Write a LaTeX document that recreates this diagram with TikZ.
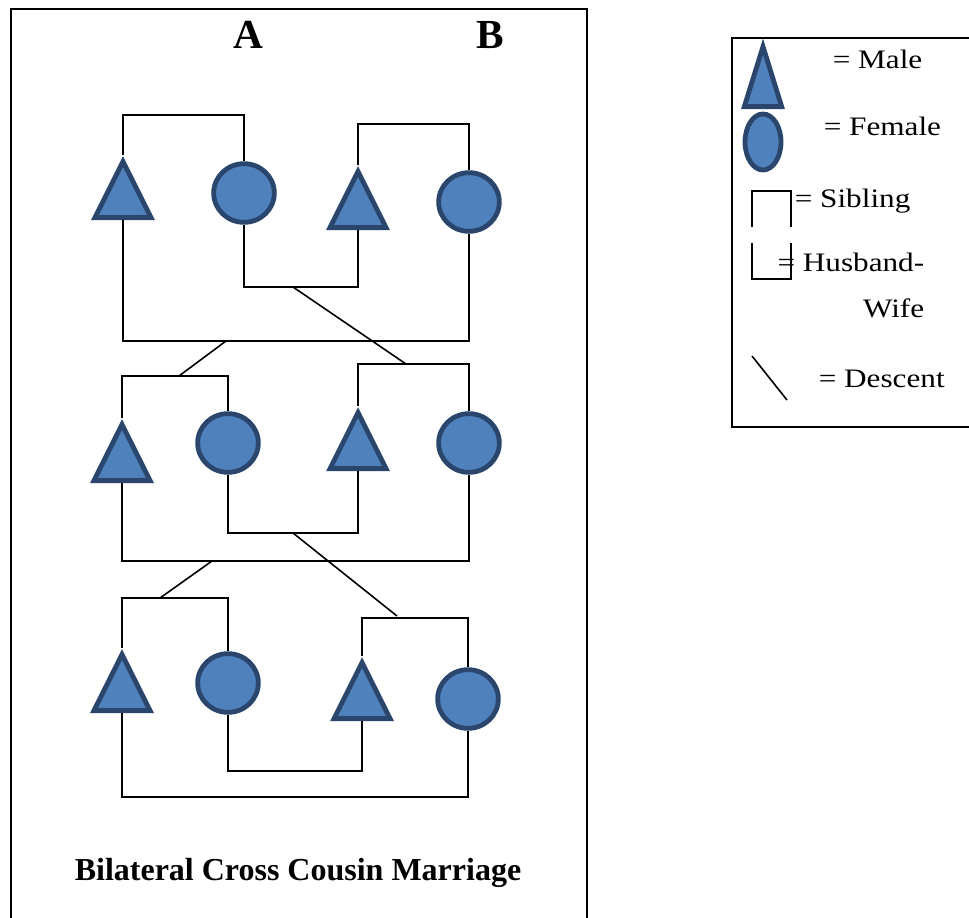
\documentclass[tikz,border=0pt]{standalone}
\usepackage{fontspec}
\setmainfont{Liberation Serif}
\newfontfamily\keyfont[FakeStretch=1.17]{Liberation Serif}
\usepackage{tikz}
\usetikzlibrary{shapes.geometric}
\definecolor{kinfill}{HTML}{4F81BD}
\definecolor{kinline}{HTML}{2A466C}

\begin{document}
\begin{tikzpicture}[x = 0.75pt, y = -0.75pt, line width = 1.2pt,
                        male/.style = {isosceles triangle, isosceles triangle stretches, shape border rotate = 90,
                                       draw = kinline, fill = kinfill, line width = 3.6pt, inner sep = 0pt,
                                       minimum width = 42pt, minimum height = 42pt, anchor = lower side},
                        female/.style = {ellipse, draw = kinline, fill = kinfill, line width = 3.6pt, inner sep = 0pt,
                                         minimum width = 45.5pt, minimum height = 44pt},
                        frame/.style = {draw, line width = 1.6pt},
                        keytext/.style = {font = \keyfont\fontsize{20}{35}\selectfont, inner sep = 0pt}]
      \useasboundingbox (0, 0) rectangle (969, 917);
      \clip (0, 0) rectangle (969, 917);
      \draw [frame] (11, 9) rectangle (587, 940);
      \draw [frame] (732, 38) rectangle (990, 427);

      \node [font = \bfseries\fontsize{31}{31}\selectfont, anchor = base] (headA) at (248, 49){A};
      \node [font = \bfseries\fontsize{31}{31}\selectfont, anchor = base] (headB) at (490, 49){B};

      \node [male] (t1) at (123, 220){};
      \node [female] (c1) at (244, 193){};
      \node [male] (t2) at (358, 230){};
      \node [female] (c2) at (469, 202){};
      \coordinate (s1) at (244, 115);
      \coordinate (s2) at (469, 124);
      \coordinate (m1) at (358, 287);
      \coordinate (m2) at (469, 341);
      \draw (t1.apex) |- (s1) -- (c1.north);
      \draw (t2.apex) |- (s2) -- (c2.north);
      \draw (c1.south) |- (m1) -- (t2.lower side);
      \draw (t1.lower side) |- (m2) -- (c2.south);

      \node [male] (t3) at (122, 483){};
      \node [female] (c3) at (228, 443){};
      \node [male] (t4) at (358, 471){};
      \node [female] (c4) at (469, 443){};
      \coordinate (s3) at (228, 376);
      \coordinate (s4) at (469, 364);
      \coordinate (m3) at (358, 533);
      \coordinate (m4) at (469, 561);
      \draw (t3.apex) |- (s3) -- (c3.north);
      \draw (t4.apex) |- (s4) -- (c4.north);
      \draw (c3.south) |- (m3) -- (t4.lower side);
      \draw (t3.lower side) |- (m4) -- (c4.south);

      \node [male] (t5) at (122, 713){};
      \node [female] (c5) at (228, 683){};
      \node [male] (t6) at (362, 721){};
      \node [female] (c6) at (468, 699){};
      \coordinate (s5) at (228, 598);
      \coordinate (s6) at (468, 618);
      \coordinate (m5) at (362, 771);
      \coordinate (m6) at (468, 797);
      \draw (t5.apex) |- (s5) -- (c5.north);
      \draw (t6.apex) |- (s6) -- (c6.north);
      \draw (c5.south) |- (m5) -- (t6.lower side);
      \draw (t5.lower side) |- (m6) -- (c6.south);

      \coordinate (d1a) at (293, 287);
      \coordinate (d1b) at (406, 364);
      \coordinate (d2a) at (226, 341);
      \coordinate (d2b) at (179, 376);
      \coordinate (d3a) at (293, 533);
      \coordinate (d3b) at (397, 616);
      \coordinate (d4a) at (212, 561);
      \coordinate (d4b) at (160, 598);
      \draw (d1a) -- (d1b);
      \draw (d2a) -- (d2b);
      \draw (d3a) -- (d3b);
      \draw (d4a) -- (d4b);

      \node [font = \bfseries\fontsize{24}{24}\selectfont, anchor = base] (title) at (298, 880){Bilateral Cross Cousin Marriage};

      \node [female, minimum width = 27pt, minimum height = 42pt] (keyfemale) at (763, 142){};
      \node [male, minimum width = 28pt, minimum height = 45pt] (keymale) at (763, 109){};
      \draw (752, 227) -- (752, 191) -- (791, 191) -- (791, 227);
      \draw (752, 243) -- (752, 279) -- (791, 279) -- (791, 243);
      \draw (752, 356) -- (787, 400);
      \node [keytext, anchor = base west] (kmale) at (832, 69){= Male};
      \node [keytext, anchor = base west] (kfemale) at (823, 135){= Female};
      \node [keytext, anchor = base west] (ksibling) at (794, 207){= Sibling};
      \node [keytext, align = right, anchor = north east] (kspouse) at (925, 252){= Husband-\\Wife};
      \node [keytext, anchor = base west] (kdescent) at (818, 387){= Descent};
    \end{tikzpicture}
\end{document}
